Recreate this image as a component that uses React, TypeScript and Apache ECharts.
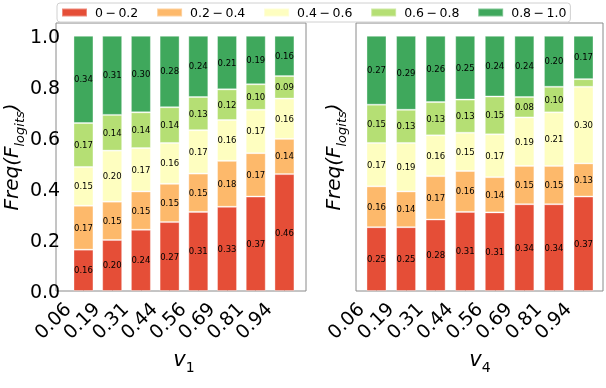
import React, { useEffect, useRef } from "react";
import * as echarts from "echarts";

const categories = ["0.06", "0.19", "0.31", "0.44", "0.56", "0.69", "0.81", "0.94"];
const binNames = ["0\u2009\u2212\u20090.2", "0.2\u2009\u2212\u20090.4", "0.4\u2009\u2212\u20090.6", "0.6\u2009\u2212\u20090.8", "0.8\u2009\u2212\u20091.0"];
const binColors = ["#e54e37", "#fdb96b", "#fefec0", "#b5df74", "#3fa85c"];

// left panel (v1) — estimated fractions, each column sums to 1
const v1Bin0 = [0.162, 0.20, 0.24, 0.27, 0.31, 0.33, 0.37, 0.458];
const v1Bin1 = [0.172, 0.15, 0.15, 0.15, 0.15, 0.18, 0.17, 0.138];
const v1Bin2 = [0.152, 0.20, 0.17, 0.16, 0.17, 0.16, 0.17, 0.158];
const v1Bin3 = [0.172, 0.14, 0.14, 0.14, 0.13, 0.12, 0.10, 0.088];
const v1Bin4 = [0.342, 0.31, 0.30, 0.28, 0.24, 0.21, 0.19, 0.158];

// right panel (v4)
const v4Bin0 = [0.25, 0.25, 0.28, 0.31, 0.308, 0.34, 0.34, 0.37];
const v4Bin1 = [0.16, 0.14, 0.17, 0.16, 0.138, 0.15, 0.15, 0.13];
const v4Bin2 = [0.17, 0.19, 0.16, 0.15, 0.168, 0.19, 0.21, 0.30];
const v4Bin3 = [0.15, 0.13, 0.13, 0.13, 0.148, 0.08, 0.10, 0.03];
const v4Bin4 = [0.27, 0.29, 0.26, 0.25, 0.238, 0.24, 0.20, 0.17];

const yTicks = [0, 0.2, 0.4, 0.6, 0.8, 1.0];

const FONT = "DejaVu Sans";
const SPINE = "#8a8a8a";

function makeX(gridIndex: number, sub: string) {
  return {
    type: "category",
    gridIndex,
    data: categories,
    boundaryGap: true,
    axisLine: { show: false },
    splitLine: { show: false },
    axisTick: { show: true, inside: true, length: 3, alignWithLabel: true, lineStyle: { color: SPINE } },
    axisLabel: {
      interval: 0,
      rotate: 45,
      fontSize: 19,
      color: "#000",
      fontFamily: FONT,
      margin: -2,
      padding: [0, 23, 0, 0],
    },
    name: `{m|v}{s|${sub}}`,
    nameLocation: "middle",
    nameGap: 46,
    nameTextStyle: {
      rich: {
        m: { fontSize: 21, fontStyle: "italic", fontFamily: FONT, color: "#000", lineHeight: 30 },
        s: { fontSize: 14, fontFamily: FONT, color: "#000", verticalAlign: "bottom", lineHeight: 14 },
      },
    },
  };
}

function makeY(gridIndex: number, showLabels: boolean, gap: number, margin: number) {
  return {
    type: "value",
    gridIndex,
    min: 0,
    max: 1.05,
    interval: 0.2,
    axisLine: { show: false },
    axisTick: { show: false },
    splitLine: { show: false },
    axisLabel: {
      show: showLabels,
      formatter: (v: number) => (yTicks.some((t) => Math.abs(t - v) < 1e-6) ? v.toFixed(1) : ""),
      fontSize: 19,
      color: "#000",
      fontFamily: FONT,
      margin,
    },
    name: "{m|Freq(F}{s|logits}{m|)}",
    nameLocation: "middle",
    nameGap: gap,
    nameTextStyle: {
      rich: {
        m: { fontSize: 20, fontStyle: "italic", fontFamily: FONT, color: "#000", lineHeight: 30 },
        s: { fontSize: 13, fontStyle: "italic", fontFamily: FONT, color: "#000", verticalAlign: "bottom", lineHeight: 13 },
      },
    },
  };
}

function hiddenAxis(gridIndex: number) {
  return { type: "value", gridIndex, show: false, min: 0, max: 1, splitLine: { show: false } };
}

function barSeries(name: string, color: string, values: number[], axis: number) {
  return {
    type: "bar",
    name,
    xAxisIndex: axis,
    yAxisIndex: axis,
    stack: "panel" + axis,
    barWidth: 20,
    data: values,
    itemStyle: { color, borderColor: "rgba(255,255,255,0.35)", borderWidth: 1 },
    label: {
      show: true,
      position: "inside",
      fontSize: 8.5,
      color: "#000",
      fontFamily: FONT,
      formatter: (p: any) => (p.value >= 0.05 ? Number(p.value).toFixed(2) : ""),
    },
  };
}

export default function App() {
  const ref = useRef<HTMLDivElement>(null);
  useEffect(() => {
    document.body.style.margin = "0";
    const chart = echarts.init(ref.current!, null, { renderer: "svg" });
    const left = [v1Bin0, v1Bin1, v1Bin2, v1Bin3, v1Bin4];
    const right = [v4Bin0, v4Bin1, v4Bin2, v4Bin3, v4Bin4];
    const series: any[] = [];
    binNames.forEach((n, b) => {
      series.push(barSeries(n, binColors[b], left[b], 0));
      series.push(barSeries(n, binColors[b], right[b], 1));
    });
    chart.setOption({
      animation: false,
      textStyle: { fontFamily: FONT },
      legend: {
        data: binNames,
        left: 57,
        top: 3,
        padding: [3, 4, 3, 4],
        itemWidth: 25,
        itemHeight: 8,
        itemGap: 17.8,
        icon: "rect",
        borderColor: "#d0d0d0",
        borderWidth: 1,
        borderRadius: 3,
        backgroundColor: "#fff",
        textStyle: { fontSize: 12.5, color: "#000", fontFamily: FONT, padding: [0, 0, 0, 3] },
      },
      grid: [
        // data grids (category pitch matching the reference)
        { left: 61.2, right: 606 - 298.8, top: 23, bottom: 97, show: false, containLabel: false },
        { left: 361.7, right: 7.7, top: 23, bottom: 97, show: false, containLabel: false },
        // frame grids (axes boxes)
        { left: 56, right: 300, top: 23, bottom: 97, show: true, borderColor: SPINE, borderWidth: 1, containLabel: false },
        { left: 356, right: 3, top: 23, bottom: 97, show: true, borderColor: SPINE, borderWidth: 1, containLabel: false },
      ],
      xAxis: [makeX(0, "1"), makeX(1, "4"), hiddenAxis(2), hiddenAxis(3)],
      yAxis: [makeY(0, true, 38.7, 9), makeY(1, false, 14, 9), hiddenAxis(2), hiddenAxis(3)],
      series,
    });
    return () => chart.dispose();
  }, []);
  return <div ref={ref} style={{ position: "fixed", left: 0, top: 0, width: 606, height: 388 }} />;
}
